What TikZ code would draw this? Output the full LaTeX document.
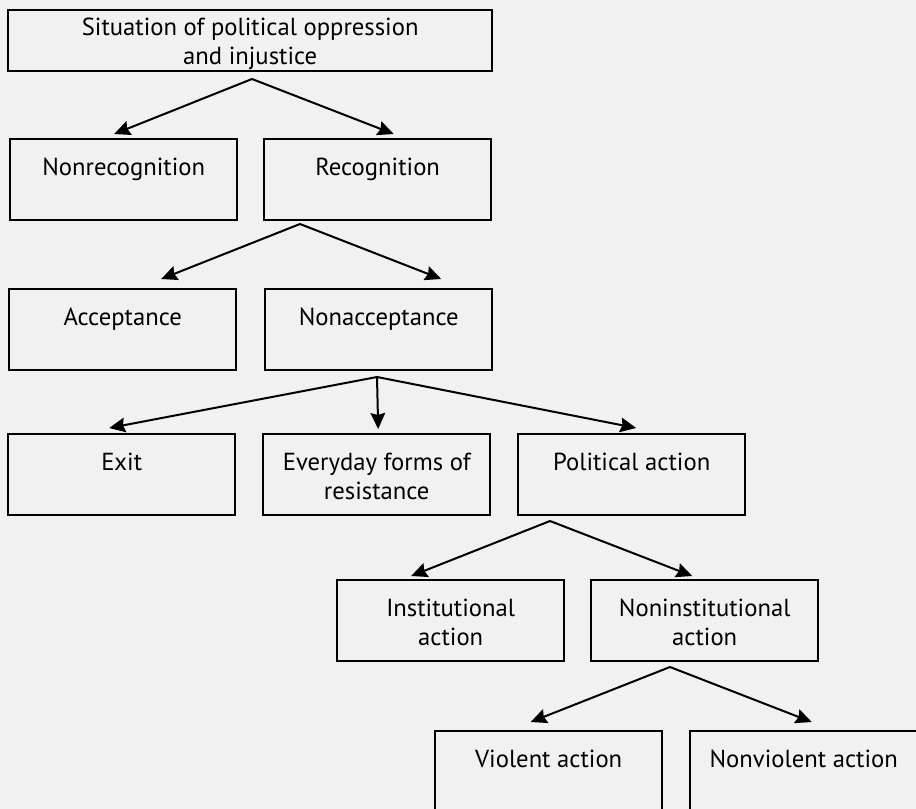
\documentclass[tikz,border=0pt]{standalone}
\usepackage{fontspec}
\setmainfont{PT Sans}
\usetikzlibrary{arrows.meta}
\definecolor{bggray}{HTML}{F1F1F1}

\begin{document}
\begin{tikzpicture}[x=0.75pt,y=-0.75pt,>={Stealth[length=12pt,width=11pt,inset=1.5pt]},
    box/.style={draw,line width=1.8pt,anchor=north west,align=center,
        minimum width=170.25pt,minimum height=60.75pt,
        font=\fontsize{18.5}{21.75}\selectfont},
    rowbox/.style={box,text height=37.5pt},
    arr/.style={->,line width=1.5pt}]
    \path[use as bounding box,fill=bggray] (0,0) rectangle (916,809);

    \node[box,minimum width=363pt,minimum height=45.75pt,inner ysep=0pt,text height=39pt] (sit) at (7,9) {Situation of political oppression\\and injustice};
    \node[rowbox] (nonrec) at (9,138) {Nonrecognition\\\phantom{x}};
    \node[rowbox] (rec) at (263,138) {Recognition\\\phantom{x}};
    \node[rowbox] (accept) at (8,288) {Acceptance\\\phantom{x}};
    \node[rowbox] (nonaccept) at (264,288) {Nonacceptance\\\phantom{x}};
    \node[rowbox] (exit) at (7,433) {Exit\\\phantom{x}};
    \node[rowbox] (everyday) at (262,433) {Everyday forms of\\resistance};
    \node[rowbox] (polit) at (517,433) {Political action\\\phantom{x}};
    \node[rowbox] (inst) at (336,579) {Institutional\\action};
    \node[rowbox] (noninst) at (590,579) {Noninstitutional\\action};
    \node[rowbox] (violent) at (434,730) {Violent action\\\phantom{x}};
    \node[rowbox] (nonviolent) at (689,730) {Nonviolent action\\\phantom{x}};

    % split points under the parent boxes
    \coordinate (s1) at (252,79);
    \coordinate (s2) at (300,224);
    \coordinate (s3) at (377,377);
    \coordinate (s4) at (550,521);
    \coordinate (s5) at (670,667);

    \draw[arr] (s1) -- ([shift={(-9.5,-4)}]nonrec.north);
    \draw[arr] (s1) -- ([shift={(16,-4)}]rec.north);
    \draw[arr] (s2) -- ([shift={(38.5,-9)}]accept.north);
    \draw[arr] (s2) -- ([shift={(62.5,-9)}]nonaccept.north);
    \draw[arr] (s3) -- ([shift={(-12.5,-5)}]exit.north);
    \draw[arr] (s3) -- ([shift={(1.5,-4)}]everyday.north);
    \draw[arr] (s3) -- ([shift={(4.5,-5)}]polit.north);
    \draw[arr] (s4) -- ([shift={(-39.5,-3)}]inst.north);
    \draw[arr] (s4) -- ([shift={(-12.5,-3)}]noninst.north);
    \draw[arr] (s5) -- ([shift={(-18,-8)}]violent.north);
    \draw[arr] (s5) -- ([shift={(8,-8)}]nonviolent.north);
\end{tikzpicture}
\end{document}
